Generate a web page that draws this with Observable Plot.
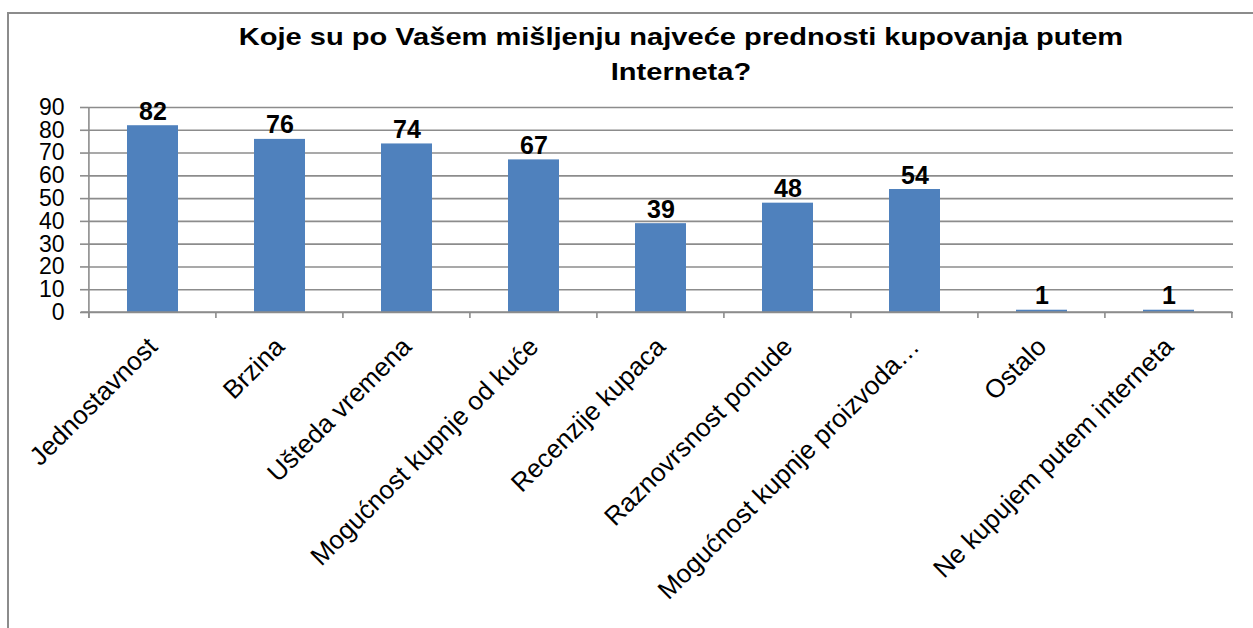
<!DOCTYPE html>
<html>
<head>
<meta charset="utf-8">
<script src="https://cdn.jsdelivr.net/npm/d3@7"></script>
<script src="https://cdn.jsdelivr.net/npm/@observablehq/plot@0.6"></script>
<style>
  body { margin: 0; background: #fff; font-family: Arial, "Liberation Sans", sans-serif; }
  #wrap { position: relative; width: 1253px; height: 628px; overflow: hidden; background: #fff; }
  #frame { position: absolute; left: 7px; top: 12px; width: 1260px; height: 700px; border: 2px solid #8c8c8c; box-sizing: border-box; }
  #title { position: absolute; left: 0; width: 1362px; top: 19px; text-align: center; font-weight: bold; font-size: 24px; line-height: 35px; color: #000; transform: scaleX(1.21); transform-origin: 681px 0; }
  #chart { position: absolute; left: 0; top: 0; }
</style>
</head>
<body>
<div id="wrap">
  <div id="frame"></div>
  <div id="title">Koje su po Vašem mišljenju najveće prednosti kupovanja putem<br>Interneta?</div>
  <div id="chart"></div>
</div>
<script>
const categories = [
  "Jednostavnost",
  "Brzina",
  "Ušteda vremena",
  "Mogućnost kupnje od kuće",
  "Recenzije kupaca",
  "Raznovrsnost ponude",
  "Mogućnost kupnje proizvoda…",
  "Ostalo",
  "Ne kupujem putem interneta"
];
const values = [82, 76, 74, 67, 39, 48, 54, 1, 1];
const yTicks = [0, 10, 20, 30, 40, 50, 60, 70, 80, 90];

const data = categories.map((c, i) => ({category: c, value: values[i]}));
const gray = "#8c8c8c";

const chart = Plot.plot({
  width: 1253,
  height: 628,
  marginTop: 107,
  marginBottom: 316,
  marginLeft: 88,
  marginRight: 20,
  style: {fontFamily: "Arial, 'Liberation Sans', sans-serif", background: "transparent", overflow: "visible"},
  x: {domain: categories, paddingInner: 0.6, paddingOuter: 0.3, axis: null},
  y: {domain: [0, 90], axis: null},
  marks: [
    Plot.gridY(yTicks, {stroke: gray, strokeOpacity: 1, strokeWidth: 1.6}),
    Plot.axisY(yTicks, {tickSize: 8, tickPadding: 16, fontSize: 23, stroke: gray, strokeWidth: 1.6, fill: "#000", label: null}),
    Plot.barY(data, {x: "category", y: "value", fill: "#4F81BD"}),
    Plot.text(data, {x: "category", y: "value", text: d => String(d.value), dy: -6, lineAnchor: "bottom", fontWeight: "bold", fontSize: 25, fill: "#000"}),
    Plot.text(data, {x: "category", text: "category", frameAnchor: "bottom", rotate: -45, textAnchor: "end", lineAnchor: "middle", dx: 0, dy: 30, fontSize: 26, fill: "#000"})
  ]
});

document.getElementById("chart").appendChild(chart);

// axis lines and category boundary ticks drawn from Plot's own scales
const xs = chart.scale("x");
const ys = chart.scale("y");
const svg = d3.select(chart);
const step = xs.step;
const left = xs.apply(categories[0]) - step * xs.paddingOuter;
const y0 = ys.apply(0), y90 = ys.apply(90);
const g = svg.append("g").attr("stroke", gray).attr("stroke-width", 1.6);
g.append("line").attr("x1", left).attr("x2", left).attr("y1", y90).attr("y2", y0 + 6);
g.append("line").attr("x1", left - 8).attr("x2", left + step * categories.length).attr("y1", y0).attr("y2", y0);
for (let i = 0; i <= categories.length; i++) {
  const x = left + i * step;
  g.append("line").attr("x1", x).attr("x2", x).attr("y1", y0).attr("y2", y0 + 6);
}
</script>
</body>
</html>
